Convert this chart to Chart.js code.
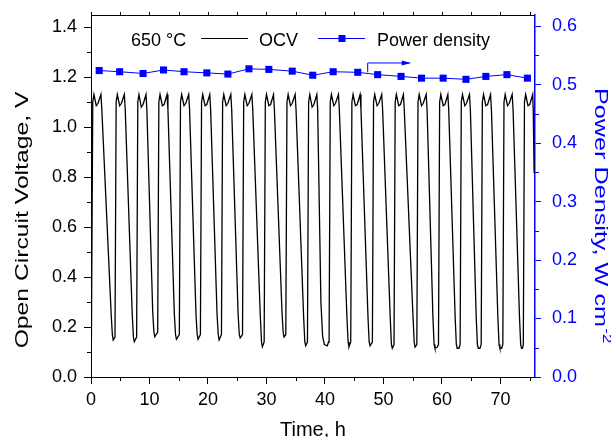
<!DOCTYPE html>
<html lang="en">
<head>
  <meta charset="UTF-8">
  <title>OCV and power density vs time</title>
  <script src="https://cdn.jsdelivr.net/npm/chart.js"></script>
  <style>
    body { margin: 0; background: white; }
    #chart-box { width: 611px; height: 437px; }
  </style>
</head>
<body>
  <div id="chart-box">
    <canvas id="myChart" width="611" height="437"></canvas>
  </div>

  <script>
    // OCV trace (time h, voltage V)
    const ocvTime = [
      0, 0.05, 0.1, 0.3, 0.5, 0.9, 1.2, 1.7, 1.85, 3.45, 3.65, 3.8,
      4.1, 4.3, 4.5, 4.9, 5.2, 5.7, 5.85, 7.05, 7.25, 7.4,
      7.8, 8.0, 8.2, 8.6, 8.9, 9.4, 9.55, 10.55, 10.75, 10.9,
      11.4, 11.6, 11.8, 12.2, 12.5, 13.0, 13.15, 14.25, 14.45, 14.6,
      15.1, 15.3, 15.5, 15.9, 16.2, 16.7, 16.85, 17.95, 18.15, 18.3,
      18.7, 18.9, 19.1, 19.5, 19.8, 20.3, 20.45, 21.55, 21.75, 21.9,
      22.3, 22.5, 22.7, 23.1, 23.4, 23.9, 24.05, 25.15, 25.35, 25.5,
      25.9, 26.1, 26.3, 26.7, 27.0, 27.5, 27.65, 28.95, 29.15, 29.3,
      29.6, 29.8, 30.0, 30.4, 30.7, 31.2, 31.35, 32.65, 32.85, 33.0,
      33.3, 33.5, 33.7, 34.1, 34.4, 34.9, 35.05, 36.35, 36.55, 36.7,
      37.0, 37.2, 37.4, 37.8, 38.1, 38.6, 38.75, 39.3, 39.6, 39.9, 40.4, 40.6,
      40.7, 40.9, 41.1, 41.5, 41.8, 42.3, 42.45, 43.75, 43.95, 44.1,
      44.4, 44.6, 44.8, 45.2, 45.5, 46.0, 46.15, 47.35, 47.55, 47.7,
      48.1, 48.3, 48.5, 48.9, 49.2, 49.7, 49.85, 51.15, 51.35, 51.5,
      51.8, 52.0, 52.2, 52.6, 52.9, 53.4, 53.55, 55.05, 55.25, 55.4,
      55.7, 55.9, 56.1, 56.5, 56.8, 57.3, 57.45, 58.45, 58.65, 58.8, 59.2,
      59.4, 59.6, 59.8, 60.2, 60.5, 61.0, 61.15, 62.25, 62.45, 62.6, 62.9,
      63.1, 63.3, 63.5, 63.9, 64.2, 64.7, 64.85, 65.85, 66.05, 66.2, 66.5,
      66.7, 66.9, 67.1, 67.5, 67.8, 68.3, 68.45, 69.55, 69.75, 69.9, 70.2,
      70.4, 70.6, 70.8, 71.2, 71.5, 72.0, 72.15, 73.25, 73.45, 73.6, 73.75,
      73.9, 74.1, 74.3, 74.7, 75.0, 75.5, 75.6, 75.75
    ];
    const ocvVolt = [
      0.16, 0.21, 0.17, 1.10, 1.13, 1.085, 1.095, 1.13, 1.07, 0.25, 0.17, 0.148,
      0.16, 1.10, 1.13, 1.085, 1.095, 1.13, 1.07, 0.25, 0.16, 0.141,
      0.16, 1.10, 1.13, 1.08, 1.09, 1.13, 1.07, 0.26, 0.18, 0.161,
      0.18, 1.10, 1.13, 1.085, 1.09, 1.13, 1.07, 0.25, 0.17, 0.151,
      0.17, 1.10, 1.13, 1.085, 1.095, 1.13, 1.07, 0.25, 0.17, 0.151,
      0.17, 1.10, 1.13, 1.085, 1.09, 1.13, 1.07, 0.25, 0.17, 0.148,
      0.17, 1.10, 1.13, 1.085, 1.095, 1.13, 1.07, 0.25, 0.17, 0.156,
      0.17, 1.10, 1.13, 1.085, 1.095, 1.13, 1.07, 0.24, 0.14, 0.121,
      0.14, 1.10, 1.13, 1.085, 1.09, 1.13, 1.07, 0.26, 0.18, 0.16,
      0.17, 1.10, 1.13, 1.085, 1.095, 1.13, 1.07, 0.24, 0.14, 0.125,
      0.14, 1.10, 1.13, 1.08, 1.09, 1.13, 1.07, 0.30, 0.16, 0.13, 0.125, 0.14,
      0.14, 1.10, 1.13, 1.085, 1.095, 1.13, 1.07, 0.24, 0.14, 0.121,
      0.14, 1.10, 1.13, 1.085, 1.09, 1.13, 1.07, 0.24, 0.14, 0.125,
      0.14, 1.10, 1.13, 1.085, 1.095, 1.13, 1.07, 0.24, 0.13, 0.115,
      0.13, 1.10, 1.13, 1.085, 1.09, 1.13, 1.07, 0.24, 0.14, 0.12,
      0.13, 1.10, 1.13, 1.085, 1.095, 1.13, 1.07, 0.24, 0.13, 0.115, 0.12,
      0.13, 1.10, 1.13, 1.085, 1.09, 1.13, 1.07, 0.24, 0.13, 0.115, 0.115,
      0.13, 1.10, 1.13, 1.085, 1.095, 1.13, 1.07, 0.24, 0.13, 0.115, 0.115,
      0.13, 1.10, 1.13, 1.085, 1.09, 1.13, 1.07, 0.24, 0.13, 0.115, 0.115,
      0.13, 1.10, 1.13, 1.085, 1.095, 1.13, 1.07, 0.24, 0.13, 0.115, 0.115,
      0.13, 1.10, 1.13, 1.085, 1.09, 1.13, 1.07, 0.815
    ];

    // power density points (time h, W cm-2)
    const pdTime = [1.4, 4.9, 8.9, 12.4, 15.9, 19.8, 23.4, 27.0, 30.4, 34.4, 37.9,
                    41.4, 45.6, 49.0, 53.0, 56.5, 60.2, 64.1, 67.5, 71.1, 74.6];
    const pdValue = [0.524, 0.522, 0.519, 0.525, 0.522, 0.520, 0.518, 0.527, 0.526, 0.523, 0.516,
                     0.522, 0.521, 0.517, 0.514, 0.511, 0.511, 0.509, 0.514, 0.517, 0.511];

    // axis ticks
    const xTicks = [0, 10, 20, 30, 40, 50, 60, 70];
    const xMinor = [5, 15, 25, 35, 45, 55, 65, 75];
    const yTicks = [0, 0.2, 0.4, 0.6, 0.8, 1.0, 1.2, 1.4];
    const yMinor = [0.1, 0.3, 0.5, 0.7, 0.9, 1.1, 1.3];
    const y1Ticks = [0, 0.1, 0.2, 0.3, 0.4, 0.5, 0.6];
    const y1Minor = [0.05, 0.15, 0.25, 0.35, 0.45, 0.55];

    // arrow pointing at the right axis (x in h, y in W cm-2)
    const arrowPts = [[47.3, 0.521], [47.3, 0.537], [54.5, 0.537]];

    const FONT = "'Liberation Sans', Arial, sans-serif";
    const BLUE = '#0000ff';
    Chart.defaults.font.family = FONT;

    const ocvData = ocvTime.map((t, i) => ({ x: t, y: ocvVolt[i] }));
    const pdData = pdTime.map((t, i) => ({ x: t, y: pdValue[i] }));

    function drawRotated(ctx, text, sup, x, y, angle, size, stretch, color) {
      ctx.save();
      ctx.translate(x, y);
      ctx.rotate(angle);
      ctx.scale(stretch, 1);
      ctx.fillStyle = color;
      ctx.font = size + 'px ' + FONT;
      ctx.textAlign = 'left';
      ctx.textBaseline = 'alphabetic';
      const w = ctx.measureText(text).width;
      let sw = 0;
      if (sup) {
        ctx.font = Math.round(size * 0.65) + 'px ' + FONT;
        sw = ctx.measureText(sup).width;
      }
      const start = angle < 0 ? -(w + sw) / 2 : 0;
      ctx.font = size + 'px ' + FONT;
      ctx.fillText(text, start, 0);
      if (sup) {
        ctx.font = Math.round(size * 0.65) + 'px ' + FONT;
        ctx.fillText(sup, start + w + 1, -size * 0.42);
      }
      ctx.restore();
    }

    const decorations = {
      id: 'decorations',
      afterDraw(chart) {
        const { ctx, chartArea: a, scales: { x, y, y1 } } = chart;
        ctx.save();
        ctx.lineWidth = 1;

        // top frame line with small outward ticks
        ctx.strokeStyle = '#000';
        ctx.beginPath();
        ctx.moveTo(a.left, a.top + 0.5);
        ctx.lineTo(a.right, a.top + 0.5);
        xTicks.concat(xMinor).forEach(v => {
          const px = Math.round(x.getPixelForValue(v)) + 0.5;
          ctx.moveTo(px, a.top);
          ctx.lineTo(px, a.top - 3);
        });
        // bottom minor ticks
        xMinor.forEach(v => {
          const px = Math.round(x.getPixelForValue(v)) + 0.5;
          ctx.moveTo(px, a.bottom);
          ctx.lineTo(px, a.bottom + 4);
        });
        // left minor ticks
        yMinor.forEach(v => {
          const py = Math.round(y.getPixelForValue(v)) + 0.5;
          ctx.moveTo(a.left, py);
          ctx.lineTo(a.left - 4, py);
        });
        ctx.stroke();

        // right minor ticks
        ctx.strokeStyle = BLUE;
        ctx.beginPath();
        y1Minor.forEach(v => {
          const py = Math.round(y1.getPixelForValue(v)) + 0.5;
          ctx.moveTo(a.right, py);
          ctx.lineTo(a.right + 4, py);
        });
        ctx.stroke();

        // arrow toward right axis
        ctx.beginPath();
        arrowPts.forEach((p, i) => {
          const px = x.getPixelForValue(p[0]);
          const py = y1.getPixelForValue(p[1]);
          if (i === 0) ctx.moveTo(px, py); else ctx.lineTo(px, py);
        });
        ctx.stroke();
        const tip = arrowPts[arrowPts.length - 1];
        const tx = x.getPixelForValue(tip[0]);
        const ty = y1.getPixelForValue(tip[1]);
        ctx.fillStyle = BLUE;
        ctx.beginPath();
        ctx.moveTo(tx + 1, ty);
        ctx.lineTo(tx - 8, ty - 2.5);
        ctx.lineTo(tx - 8, ty + 2.5);
        ctx.closePath();
        ctx.fill();

        // legend
        ctx.font = '18px ' + FONT;
        ctx.textBaseline = 'alphabetic';
        ctx.fillStyle = '#000';
        ctx.fillText('650 \u00B0C', 131, 46);
        ctx.strokeStyle = '#000';
        ctx.beginPath();
        ctx.moveTo(201, 38.5);
        ctx.lineTo(248, 38.5);
        ctx.stroke();
        ctx.fillText('OCV', 259, 46);
        ctx.strokeStyle = BLUE;
        ctx.beginPath();
        ctx.moveTo(318, 38.5);
        ctx.lineTo(365, 38.5);
        ctx.stroke();
        ctx.fillStyle = BLUE;
        ctx.fillRect(338.5, 35, 7, 7);
        ctx.fillStyle = '#000';
        ctx.fillText('Power density', 377, 46);

        // axis titles
        ctx.textAlign = 'center';
        ctx.font = '20px ' + FONT;
        ctx.fillText('Time, h', (a.left + a.right) / 2, 436);
        drawRotated(ctx, 'Open Circuit Voltage, V', null, 28, 220, -Math.PI / 2, 19, 1.3, '#000');
        drawRotated(ctx, 'Power Density, W cm', '-2', 595, 88, Math.PI / 2, 18, 1.4, BLUE);
        ctx.restore();
      }
    };

    const setTicks = vals => scale => { scale.ticks = vals.map(v => ({ value: v })); };
    const fitY = w => s => { s.width = w; s.paddingTop = 0; s.paddingBottom = 0; };

    const ctx = document.getElementById('myChart').getContext('2d');
    const myChart = new Chart(ctx, {
      type: 'line',
      data: {
        datasets: [
          {
            label: 'Power density',
            data: pdData,
            yAxisID: 'y1',
            borderColor: BLUE,
            backgroundColor: BLUE,
            borderWidth: 1,
            pointStyle: 'rect',
            pointRadius: 5,
            pointBorderWidth: 0,
            tension: 0
          },
          {
            label: 'OCV',
            data: ocvData,
            yAxisID: 'y',
            borderColor: '#000',
            borderWidth: 1.3,
            pointRadius: 0,
            tension: 0
          }
        ]
      },
      plugins: [decorations],
      options: {
        responsive: false,
        animation: false,
        layout: { autoPadding: false, padding: { top: 15, left: 0, right: 0, bottom: 0 } },
        plugins: { legend: { display: false }, tooltip: { enabled: false } },
        scales: {
          x: {
            type: 'linear',
            min: 0,
            max: 75.9,
            afterBuildTicks: setTicks(xTicks),
            afterFit: s => { s.height = 60; s.paddingLeft = 0; s.paddingRight = 0; },
            grid: { drawOnChartArea: false, tickLength: 7, color: '#000' },
            border: { color: '#000', width: 1 },
            ticks: { color: '#000', font: { size: 18 }, padding: 5, maxRotation: 0 }
          },
          y: {
            position: 'left',
            min: 0,
            max: 1.448,
            afterBuildTicks: setTicks(yTicks),
            afterFit: fitY(91),
            grid: { drawOnChartArea: false, tickLength: 7, color: '#000' },
            border: { color: '#000', width: 1 },
            ticks: { color: '#000', font: { size: 18 }, padding: 7, callback: v => v.toFixed(1) }
          },
          y1: {
            position: 'right',
            min: 0,
            max: 0.619,
            afterBuildTicks: setTicks(y1Ticks),
            afterFit: fitY(76),
            grid: { drawOnChartArea: false, tickLength: 6, color: BLUE },
            border: { color: BLUE, width: 1.5 },
            ticks: { color: BLUE, font: { size: 18 }, padding: 11, callback: v => v.toFixed(1) }
          }
        }
      }
    });
  </script>
</body>
</html>
